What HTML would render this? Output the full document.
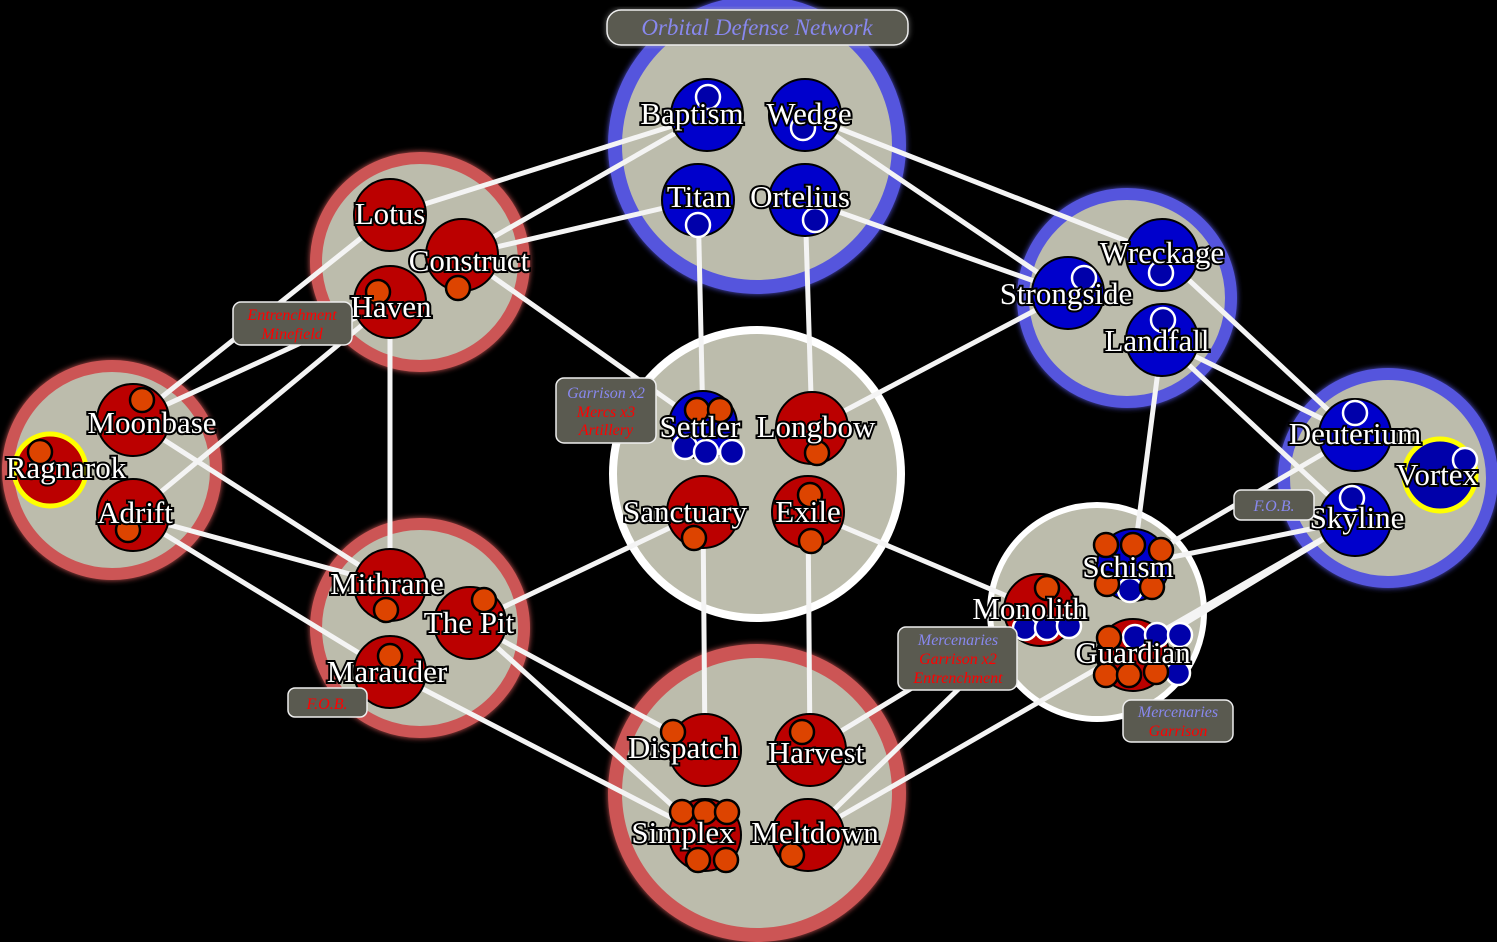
<!DOCTYPE html>
<html><head><meta charset="utf-8"><style>
html,body{margin:0;padding:0;background:#000;}
svg{display:block;}
.lbl{font-family:"Liberation Serif",serif;font-size:31px;fill:#fff;stroke:#000;stroke-width:4px;paint-order:stroke;text-anchor:middle;}
.tag{font-family:"Liberation Serif",serif;font-style:italic;font-size:16px;text-anchor:middle;}
.e{stroke:#f4f4f4;stroke-width:5;stroke-linecap:round;}
.rn{fill:#bb0000;stroke:#000;stroke-width:2;}
.bn{fill:#0000cc;stroke:#000;stroke-width:2;}
.o{fill:#dd4400;stroke:#000;stroke-width:2.5;}
.b{fill:#0000aa;stroke:#fff;stroke-width:2.5;}
.box{fill:#5a5a50;stroke:#eee;stroke-width:1.5;}
</style></head><body>
<svg width="1497" height="942" viewBox="0 0 1497 942" xmlns="http://www.w3.org/2000/svg">
<defs><filter id="bl"><feGaussianBlur stdDeviation="3"/></filter></defs>
<!-- clusters -->
<g filter="url(#bl)">
<circle cx="757" cy="145" r="142" fill="none" stroke="#5555dd" stroke-width="14"/>
<circle cx="420" cy="262" r="104" fill="none" stroke="#cc5555" stroke-width="12"/>
<circle cx="112" cy="470" r="104" fill="none" stroke="#cc5555" stroke-width="12"/>
<circle cx="420" cy="628" r="104" fill="none" stroke="#cc5555" stroke-width="12"/>
<circle cx="757" cy="793" r="142" fill="none" stroke="#cc5555" stroke-width="14"/>
<circle cx="1127" cy="298" r="104" fill="none" stroke="#5555dd" stroke-width="12"/>
<circle cx="1388" cy="478" r="104" fill="none" stroke="#5555dd" stroke-width="12"/>
</g>
<g>
<circle cx="757" cy="145" r="142" fill="#bcbcac" stroke="#5555dd" stroke-width="14"/>
<circle cx="420" cy="262" r="104" fill="#bcbcac" stroke="#cc5555" stroke-width="12"/>
<circle cx="112" cy="470" r="104" fill="#bcbcac" stroke="#cc5555" stroke-width="12"/>
<circle cx="420" cy="628" r="104" fill="#bcbcac" stroke="#cc5555" stroke-width="12"/>
<circle cx="757" cy="474" r="144" fill="#bcbcac" stroke="#fff" stroke-width="8"/>
<circle cx="757" cy="793" r="142" fill="#bcbcac" stroke="#cc5555" stroke-width="14"/>
<circle cx="1127" cy="298" r="104" fill="#bcbcac" stroke="#5555dd" stroke-width="12"/>
<circle cx="1388" cy="478" r="104" fill="#bcbcac" stroke="#5555dd" stroke-width="12"/>
<circle cx="1097" cy="612" r="107" fill="#bcbcac" stroke="#fff" stroke-width="6"/>
</g>
<!-- edges -->
<g class="e">
<line x1="707" y1="115" x2="390" y2="215"/>
<line x1="707" y1="115" x2="462" y2="255"/>
<line x1="805" y1="115" x2="1162" y2="255"/>
<line x1="805" y1="115" x2="1068" y2="293"/>
<line x1="698" y1="200" x2="462" y2="255"/>
<line x1="698" y1="200" x2="703" y2="425"/>
<line x1="805" y1="200" x2="812" y2="428"/>
<line x1="805" y1="200" x2="1068" y2="293"/>
<line x1="390" y1="215" x2="133" y2="420"/>
<line x1="390" y1="302" x2="133" y2="420"/>
<line x1="390" y1="302" x2="133" y2="515"/>
<line x1="390" y1="302" x2="390" y2="585"/>
<line x1="462" y1="255" x2="703" y2="425"/>
<line x1="133" y1="420" x2="390" y2="585"/>
<line x1="133" y1="515" x2="390" y2="585"/>
<line x1="133" y1="515" x2="390" y2="672"/>
<line x1="470" y1="623" x2="703" y2="512"/>
<line x1="470" y1="623" x2="705" y2="835"/>
<line x1="470" y1="623" x2="705" y2="750"/>
<line x1="390" y1="672" x2="705" y2="835"/>
<line x1="812" y1="428" x2="1068" y2="293"/>
<line x1="808" y1="512" x2="1040" y2="610"/>
<line x1="703" y1="512" x2="705" y2="750"/>
<line x1="808" y1="512" x2="810" y2="750"/>
<line x1="810" y1="750" x2="1040" y2="610"/>
<line x1="808" y1="835" x2="1040" y2="610"/>
<line x1="808" y1="835" x2="1355" y2="520"/>
<line x1="1162" y1="340" x2="1133" y2="565"/>
<line x1="1162" y1="340" x2="1355" y2="435"/>
<line x1="1162" y1="340" x2="1355" y2="520"/>
<line x1="1162" y1="255" x2="1355" y2="435"/>
<line x1="1133" y1="565" x2="1355" y2="435"/>
<line x1="1133" y1="565" x2="1355" y2="520"/>
<line x1="1133" y1="655" x2="1355" y2="520"/>
</g>
<!-- nodes -->
<g>
<circle class="bn" cx="707" cy="115" r="36"/><circle class="bn" cx="805" cy="115" r="36"/>
<circle class="bn" cx="698" cy="200" r="36"/><circle class="bn" cx="805" cy="200" r="36"/>
<circle class="rn" cx="390" cy="215" r="36"/><circle class="rn" cx="462" cy="255" r="36"/><circle class="rn" cx="390" cy="302" r="36"/>
<circle class="rn" cx="133" cy="420" r="36"/><circle cx="50" cy="470" r="36" fill="#bb0000" stroke="#ff0" stroke-width="5"/><circle class="rn" cx="133" cy="515" r="36"/>
<circle class="rn" cx="390" cy="585" r="36"/><circle class="rn" cx="470" cy="623" r="36"/><circle class="rn" cx="390" cy="672" r="36"/>
<circle class="bn" cx="703" cy="425" r="34"/><circle class="rn" cx="812" cy="428" r="36"/>
<circle class="rn" cx="703" cy="512" r="36"/><circle class="rn" cx="808" cy="512" r="36"/>
<circle class="rn" cx="705" cy="750" r="36"/><circle class="rn" cx="810" cy="750" r="36"/>
<circle class="rn" cx="705" cy="835" r="36"/><circle class="rn" cx="808" cy="835" r="36"/>
<circle class="bn" cx="1162" cy="255" r="36"/><circle class="bn" cx="1068" cy="293" r="36"/><circle class="bn" cx="1162" cy="340" r="36"/>
<circle class="bn" cx="1355" cy="435" r="36"/><circle cx="1440" cy="475" r="36" fill="#0000aa" stroke="#ff0" stroke-width="5"/><circle class="bn" cx="1355" cy="520" r="36"/>
<circle class="bn" cx="1133" cy="565" r="36"/><circle class="rn" cx="1040" cy="610" r="36"/><circle class="rn" cx="1133" cy="655" r="36"/>
</g>
<!-- units -->
<g>
<circle class="b" cx="708" cy="97" r="12"/><circle class="b" cx="803" cy="128" r="12"/>
<circle class="b" cx="698" cy="225" r="12"/><circle class="b" cx="815" cy="220" r="12"/>
<circle class="o" cx="458" cy="288" r="12"/><circle class="o" cx="378" cy="292" r="12"/>
<circle class="o" cx="142" cy="400" r="12"/><circle class="o" cx="40" cy="452" r="12"/><circle class="o" cx="128" cy="530" r="12"/>
<circle class="o" cx="386" cy="610" r="12"/><circle class="o" cx="484" cy="600" r="12"/><circle class="o" cx="390" cy="656" r="12"/>
<circle class="o" cx="697" cy="410" r="12"/><circle class="o" cx="720" cy="410" r="12"/>
<circle class="b" cx="685" cy="447" r="12"/><circle class="b" cx="706" cy="452" r="12"/><circle class="b" cx="732" cy="452" r="12"/>
<circle class="o" cx="817" cy="453" r="12"/><circle class="o" cx="694" cy="538" r="12"/>
<circle class="o" cx="810" cy="495" r="12"/><circle class="o" cx="811" cy="541" r="12"/>
<circle class="o" cx="673" cy="732" r="12"/><circle class="o" cx="802" cy="732" r="12"/>
<circle class="o" cx="682" cy="812" r="12"/><circle class="o" cx="705" cy="812" r="12"/><circle class="o" cx="727" cy="812" r="12"/>
<circle class="o" cx="698" cy="860" r="12"/><circle class="o" cx="726" cy="860" r="12"/><circle class="o" cx="792" cy="855" r="12"/>
<circle class="b" cx="1161" cy="273" r="12"/><circle class="b" cx="1084" cy="278" r="12"/><circle class="b" cx="1163" cy="320" r="12"/>
<circle class="b" cx="1355" cy="413" r="12"/><circle class="b" cx="1465" cy="460" r="12"/><circle class="b" cx="1352" cy="498" r="12"/>
<circle class="b" cx="1130" cy="590" r="12"/>
<circle class="o" cx="1106" cy="545" r="12"/><circle class="o" cx="1133" cy="545" r="12"/><circle class="o" cx="1161" cy="550" r="12"/>
<circle class="o" cx="1107" cy="584" r="12"/><circle class="o" cx="1152" cy="587" r="12"/>
<circle class="o" cx="1047" cy="588" r="12"/>
<circle class="b" cx="1025" cy="628" r="12"/><circle class="b" cx="1047" cy="628" r="12"/><circle class="b" cx="1069" cy="626" r="12"/>
<circle class="b" cx="1135" cy="637" r="12"/><circle class="b" cx="1157" cy="635" r="12"/><circle class="b" cx="1180" cy="635" r="12"/><circle class="b" cx="1178" cy="673" r="12"/>
<circle class="o" cx="1109" cy="638" r="12"/><circle class="o" cx="1106" cy="675" r="12"/><circle class="o" cx="1129" cy="675" r="12"/><circle class="o" cx="1156" cy="672" r="12"/>
</g>
<!-- labels -->
<g class="lbl">
<text x="692" y="124">Baptism</text><text x="809" y="124">Wedge</text>
<text x="699" y="207">Titan</text><text x="800" y="207">Ortelius</text>
<text x="390" y="224">Lotus</text><text x="469" y="271">Construct</text><text x="391" y="317">Haven</text>
<text x="152" y="433">Moonbase</text><text x="66" y="478">Ragnarok</text><text x="135" y="523">Adrift</text>
<text x="387" y="594">Mithrane</text><text x="469" y="633">The Pit</text><text x="387" y="682">Marauder</text>
<text x="700" y="437">Settler</text><text x="816" y="437">Longbow</text>
<text x="685" y="522">Sanctuary</text><text x="808" y="522">Exile</text>
<text x="683" y="758">Dispatch</text><text x="816" y="763">Harvest</text>
<text x="683" y="843">Simplex</text><text x="815" y="843">Meltdown</text>
<text x="1162" y="263">Wreckage</text><text x="1066" y="304">Strongside</text><text x="1157" y="351">Landfall</text>
<text x="1355" y="444">Deuterium</text><text x="1437" y="485">Vortex</text><text x="1357" y="528">Skyline</text>
<text x="1128" y="577">Schism</text><text x="1030" y="619">Monolith</text><text x="1133" y="663">Guardian</text>
</g>
<!-- tags -->
<rect x="607" y="10" width="301" height="35" rx="14" class="box" stroke-width="2" filter="url(#bl)" opacity="0.6"/>
<rect x="607" y="10" width="301" height="35" rx="14" class="box" stroke-width="2"/>
<text x="757" y="35" class="tag" style="font-size:23px" fill="#8888ee">Orbital Defense Network</text>
<rect x="233" y="302" width="119" height="43" rx="8" class="box"/>
<text x="292" y="320" class="tag" fill="#ff0000">Entrenchment</text><text x="292" y="339" class="tag" fill="#ff0000">Minefield</text>
<rect x="556" y="378" width="100" height="65" rx="8" class="box"/>
<text x="606" y="398" class="tag" fill="#8888ee">Garrison x2</text><text x="606" y="417" class="tag" fill="#ff0000">Mercs x3</text><text x="606" y="435" class="tag" fill="#ff0000">Artillery</text>
<rect x="288" y="688" width="79" height="29" rx="7" class="box"/>
<text x="327" y="709" class="tag" fill="#ff0000">F.O.B.</text>
<rect x="1234" y="490" width="80" height="30" rx="7" class="box"/>
<text x="1274" y="511" class="tag" fill="#8888ee">F.O.B.</text>
<rect x="898" y="627" width="119" height="63" rx="8" class="box"/>
<text x="958" y="645" class="tag" fill="#8888ee">Mercenaries</text><text x="958" y="664" class="tag" fill="#ff0000">Garrison x2</text><text x="958" y="683" class="tag" fill="#ff0000">Entrenchment</text>
<rect x="1123" y="700" width="110" height="42" rx="8" class="box"/>
<text x="1178" y="717" class="tag" fill="#8888ee">Mercenaries</text><text x="1178" y="736" class="tag" fill="#ff0000">Garrison</text>
</svg>
</body></html>
